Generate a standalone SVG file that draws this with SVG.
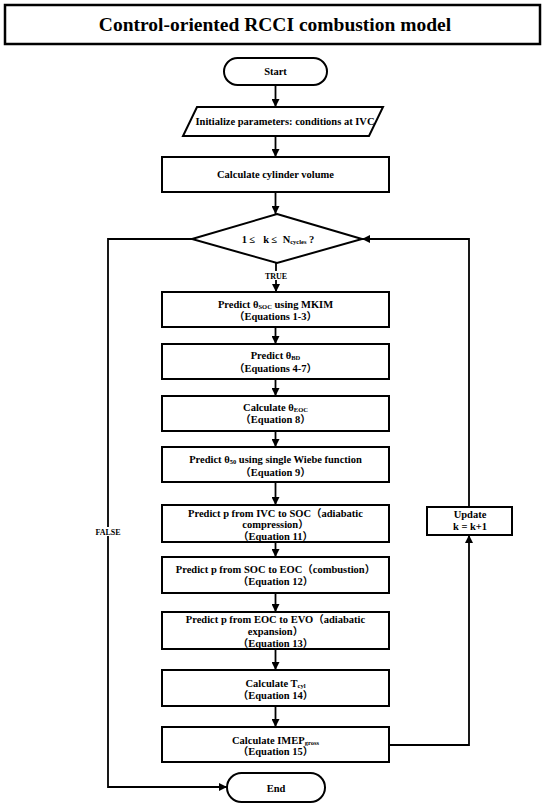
<svg xmlns="http://www.w3.org/2000/svg" width="550" height="806" viewBox="0 0 550 806">
<defs>
<marker id="arr" viewBox="0 0 10 10" refX="10" refY="5" markerWidth="9" markerHeight="8" markerUnits="userSpaceOnUse" orient="auto">
<path d="M0,0 L10,5 L0,10 Z" fill="#000"/>
</marker>
<style>
.box{fill:#fff;stroke:#000;stroke-width:2}
.t{font-family:"Liberation Serif","Noto Sans CJK SC",serif;font-weight:bold;font-size:10.5px;text-anchor:middle;fill:#000}
.sub{font-size:6.5px}
.lbl{font-family:"Liberation Serif",serif;font-weight:bold;font-size:8px;text-anchor:middle;fill:#000}
.c{fill:none;stroke:#000;stroke-width:1.8}
</style>
</defs>
<rect width="550" height="806" fill="#fff"/>
<g id="title">
<rect x="5" y="5" width="535" height="39" fill="#fff" stroke="#000" stroke-width="2.5"/>
<text x="275" y="31" style="font-family:'Liberation Serif',serif;font-weight:bold;font-size:19.5px;text-anchor:middle">Control-oriented RCCI combustion model</text>
</g>
<g id="connectors">
<path class="c" d="M275.5,85 V107" marker-end="url(#arr)"/>
<path class="c" d="M275.5,136 V157" marker-end="url(#arr)"/>
<path class="c" d="M275.5,192 V214" marker-end="url(#arr)"/>
<path class="c" d="M276,263 V292" marker-end="url(#arr)"/>
<path class="c" d="M275.5,327 V344" marker-end="url(#arr)"/>
<path class="c" d="M275.5,379 V396" marker-end="url(#arr)"/>
<path class="c" d="M275.5,431 V447" marker-end="url(#arr)"/>
<path class="c" d="M275.5,482 V505" marker-end="url(#arr)"/>
<path class="c" d="M275.5,542 V557" marker-end="url(#arr)"/>
<path class="c" d="M275.5,593 V612" marker-end="url(#arr)"/>
<path class="c" d="M275.5,649 V670" marker-end="url(#arr)"/>
<path class="c" d="M275.5,706 V727" marker-end="url(#arr)"/>
<path class="c" d="M389,745 H469 V535" marker-end="url(#arr)"/>
<path class="c" d="M469,507 V239 H362" marker-end="url(#arr)"/>
<path class="c" d="M192,239 H108 V787 H227" marker-end="url(#arr)"/>
<rect x="262" y="271" width="28" height="9" fill="#fff"/>
<text class="lbl" x="276" y="279">TRUE</text>
<rect x="91" y="527" width="34" height="9" fill="#fff"/>
<text class="lbl" x="108" y="535">FALSE</text>
</g>
<g id="start">
<rect x="224" y="58" width="103" height="27" rx="13.5" class="box"/>
<text class="t" x="275.5" y="75">Start</text>
</g>
<g id="init">
<polygon points="197,107 383,107 369,136 183,136" class="box"/>
<text class="t" x="285" y="124.5">Initialize parameters: conditions at IVC</text>
</g>
<g id="volume">
<rect x="162" y="157" width="227" height="35" class="box"/>
<text class="t" x="275.5" y="178">Calculate cylinder volume</text>
</g>
<g id="decision">
<polygon points="277,214 362,239 277,263 192,239" class="box"/>
<text class="t" x="278" y="242.5">1 ≤&#160;&#160;&#160;k ≤&#160;&#160;N<tspan class="sub" dy="1.5">cycles</tspan><tspan dy="-1.5"> ?</tspan></text>
</g>
<g id="soc">
<rect x="162" y="292" width="227" height="35" class="box"/>
<text class="t" x="275.5" y="307.5">Predict θ<tspan class="sub" dy="1">SOC</tspan><tspan dy="-1"> using MKIM</tspan></text>
<text class="t" x="275.5" y="319.5">（Equations 1-3）</text>
</g>
<g id="bd">
<rect x="162" y="344" width="227" height="35" class="box"/>
<text class="t" x="275.5" y="358.5">Predict θ<tspan class="sub" dy="1">BD</tspan></text>
<text class="t" x="275.5" y="372">（Equations 4-7）</text>
</g>
<g id="eoc">
<rect x="162" y="396" width="227" height="35" class="box"/>
<text class="t" x="275.5" y="410.5">Calculate θ<tspan class="sub" dy="1">EOC</tspan></text>
<text class="t" x="275.5" y="423">（Equation 8）</text>
</g>
<g id="wiebe">
<rect x="162" y="447" width="227" height="35" class="box"/>
<text class="t" x="275.5" y="462.5">Predict θ<tspan class="sub" dy="1">50</tspan><tspan dy="-1"> using single Wiebe function</tspan></text>
<text class="t" x="275.5" y="475.5">（Equation 9）</text>
</g>
<g id="compression">
<rect x="162" y="505" width="227" height="37" class="box"/>
<text class="t" x="275.5" y="516.5">Predict p from IVC to SOC（adiabatic</text>
<text class="t" x="275.5" y="528">compression）</text>
<text class="t" x="275.5" y="539.5">（Equation 11）</text>
</g>
<g id="combustion">
<rect x="162" y="557" width="227" height="36" class="box"/>
<text class="t" x="275.5" y="572.5">Predict p from SOC to EOC（combustion）</text>
<text class="t" x="275.5" y="584.5">（Equation 12）</text>
</g>
<g id="expansion">
<rect x="162" y="612" width="227" height="37" class="box"/>
<text class="t" x="275.5" y="622.5">Predict p from EOC to EVO（adiabatic</text>
<text class="t" x="275.5" y="635">expansion）</text>
<text class="t" x="275.5" y="647">（Equation 13）</text>
</g>
<g id="tcyl">
<rect x="162" y="670" width="227" height="36" class="box"/>
<text class="t" x="275.5" y="686.5">Calculate T<tspan class="sub" dy="1">cyl</tspan></text>
<text class="t" x="275.5" y="698.5">（Equation 14）</text>
</g>
<g id="imep">
<rect x="162" y="727" width="227" height="35" class="box"/>
<text class="t" x="275.5" y="743.5">Calculate IMEP<tspan class="sub" dy="1">gross</tspan></text>
<text class="t" x="275.5" y="755">（Equation 15）</text>
</g>
<g id="update">
<rect x="427" y="507" width="85" height="28" class="box"/>
<text class="t" x="470" y="518">Update</text>
<text class="t" x="470" y="530">k = k+1</text>
</g>
<g id="end">
<rect x="227" y="773" width="98" height="29" rx="14.5" class="box"/>
<text class="t" x="276" y="791.5">End</text>
</g>
</svg>
